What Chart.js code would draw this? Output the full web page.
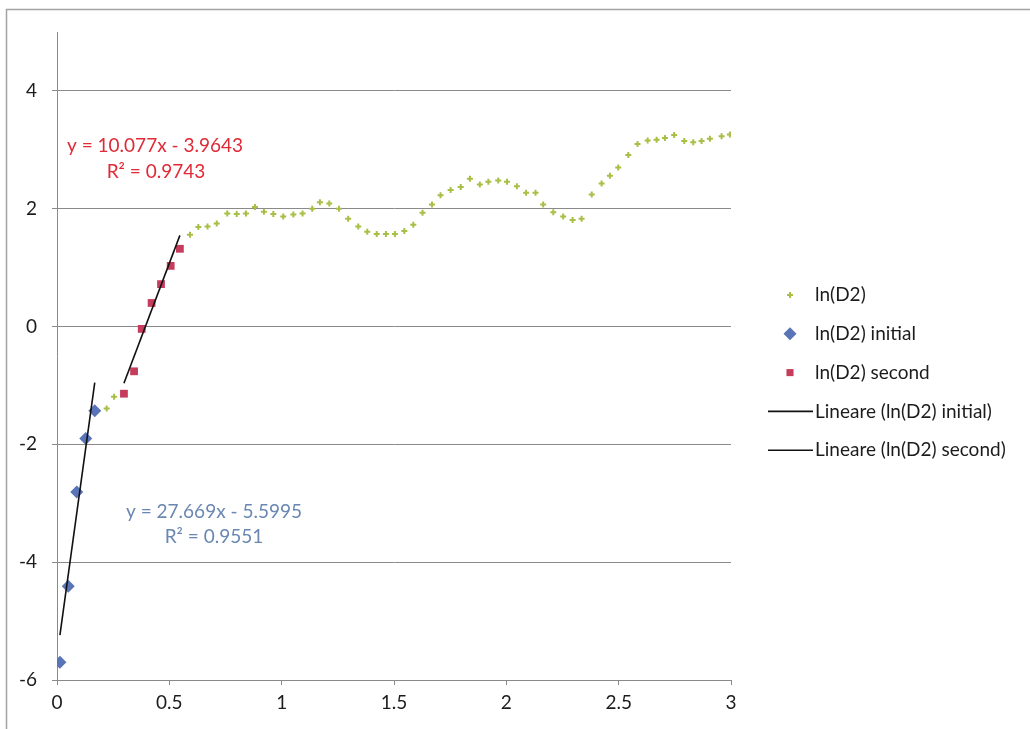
<!DOCTYPE html>
<html>
<head>
<meta charset="utf-8">
<script src="https://cdn.jsdelivr.net/npm/chart.js@4/dist/chart.umd.min.js"></script>
<style>
  html, body { margin: 0; padding: 0; background: #fff; }
  #wrap { position: relative; width: 1030px; height: 729px; }
  canvas { display: block; }
</style>
</head>
<body>
<div id="wrap"><canvas id="c" width="1030" height="729"></canvas></div>
<script>
// ln(D2) over time (plus markers)
const lnD2X = [0.221, 0.254, 0.592, 0.629, 0.670, 0.711, 0.758, 0.800, 0.841, 0.881, 0.921, 0.963,
  1.007, 1.052, 1.093, 1.136, 1.170, 1.212, 1.255, 1.296, 1.341, 1.381, 1.423, 1.464, 1.504,
  1.546, 1.586, 1.627, 1.669, 1.707, 1.752, 1.797, 1.838, 1.882, 1.920, 1.964, 2.003, 2.047,
  2.088, 2.130, 2.164, 2.209, 2.253, 2.295, 2.335, 2.380, 2.424, 2.461, 2.498, 2.543, 2.584,
  2.629, 2.669, 2.706, 2.747, 2.792, 2.832, 2.869, 2.906, 2.958, 2.995];
const lnD2Y = [-1.39, -1.19, 1.56, 1.69, 1.70, 1.75, 1.92, 1.91, 1.92, 2.03, 1.95, 1.91,
  1.87, 1.90, 1.92, 2.00, 2.11, 2.09, 2.00, 1.83, 1.70, 1.61, 1.57, 1.57, 1.57,
  1.62, 1.73, 1.93, 2.07, 2.23, 2.32, 2.37, 2.51, 2.41, 2.46, 2.48, 2.46, 2.38,
  2.27, 2.27, 2.07, 1.94, 1.87, 1.81, 1.83, 2.24, 2.43, 2.56, 2.70, 2.91, 3.10,
  3.16, 3.17, 3.20, 3.25, 3.15, 3.13, 3.15, 3.19, 3.23, 3.26];

// initial growth phase
const initialX = [0.013, 0.050, 0.088, 0.128, 0.168];
const initialY = [-5.70, -4.41, -2.81, -1.90, -1.43];

// second growth phase
const secondX = [0.298, 0.343, 0.377, 0.421, 0.463, 0.506, 0.547];
const secondY = [-1.14, -0.76, -0.04, 0.40, 0.72, 1.03, 1.32];

// linear fits (slope, intercept, R²)
const initialFit = [27.669, -5.5995, 0.9551];
const secondFit = [10.077, -3.9643, 0.9743];

const xTicks = [0, 0.5, 1, 1.5, 2, 2.5, 3];
const yTicks = [-6, -4, -2, 0, 2, 4];

const seriesNames = ['ln(D2)', 'ln(D2) initial', 'ln(D2) second',
  'Lineare (ln(D2) initial)', 'Lineare (ln(D2) second)'];

const FONT = 'Lato, "Open Sans", sans-serif';
const FSIZE = 19;
const GRID = '#8a8a8a';
const INK = '#1c1c1c';

function pts(xs, ys) { return xs.map((x, i) => ({ x: x, y: ys[i] })); }
function fitLine(xs, fit) {
  const lo = Math.min(...xs), hi = Math.max(...xs);
  return [{ x: lo, y: fit[0] * lo + fit[1] }, { x: hi, y: fit[0] * hi + fit[1] }];
}
function fmtEq(fit) {
  const b = fit[1];
  return 'y = ' + fit[0] + 'x ' + (b < 0 ? '- ' : '+ ') + Math.abs(b);
}

// white page with the chart frame
const frame = {
  id: 'frame',
  beforeDraw(chart) {
    const ctx = chart.ctx;
    ctx.save();
    ctx.fillStyle = '#fff';
    ctx.fillRect(0, 0, chart.width, chart.height);
    ctx.strokeStyle = '#a3a3a3';
    ctx.lineWidth = 1.5;
    ctx.beginPath();
    ctx.moveTo(6.5, chart.height);
    ctx.lineTo(6.5, 9.5);
    ctx.lineTo(chart.width, 9.5);
    ctx.stroke();
    ctx.restore();
  }
};

// legend at the right: markers for points, short strokes for fit lines
const sideLegend = {
  id: 'sideLegend',
  afterDraw(chart, args, opts) {
    const ctx = chart.ctx;
    chart.data.datasets.forEach((ds, i) => {
      const y = opts.top + i * opts.rowGap;
      ctx.save();
      if (ds.showLine) {
        ctx.strokeStyle = ds.borderColor;
        ctx.lineWidth = ds.borderWidth;
        ctx.beginPath();
        ctx.moveTo(opts.lineX0, y);
        ctx.lineTo(opts.lineX1, y);
        ctx.stroke();
      } else {
        ctx.fillStyle = ds.backgroundColor;
        ctx.strokeStyle = ds.borderColor;
        ctx.lineWidth = ds.borderWidth;
        Chart.helpers.drawPoint(ctx, {
          pointStyle: ds.pointStyle,
          radius: ds.legendRadius,
          borderWidth: ds.borderWidth,
          rotation: 0
        }, opts.markerX, y);
      }
      ctx.font = opts.font;
      ctx.textBaseline = 'middle';
      ctx.textAlign = 'left';
      ctx.fillStyle = opts.color;
      ctx.fillText(ds.label, opts.textX, y);
      ctx.restore();
    });
  }
};

// fit equations with R² under each
const fitLabels = {
  id: 'fitLabels',
  afterDatasetsDraw(chart, args, opts) {
    const ctx = chart.ctx;
    ctx.save();
    ctx.font = opts.font;
    ctx.textAlign = 'center';
    ctx.textBaseline = 'middle';
    opts.items.forEach(it => {
      ctx.fillStyle = it.color;
      ctx.fillText(fmtEq(it.fit), it.cx, it.cy);
      ctx.fillText('R\u00B2 = ' + it.fit[2], it.cx + it.dx2, it.cy + it.gap);
    });
    ctx.restore();
  }
};

new Chart(document.getElementById('c'), {
  type: 'scatter',
  data: {
    datasets: [
      {
        label: seriesNames[0], data: pts(lnD2X, lnD2Y), order: 5,
        pointStyle: 'cross', pointRadius: 3, legendRadius: 3, borderWidth: 2,
        borderColor: '#a8bf45', backgroundColor: '#a8bf45'
      },
      {
        label: seriesNames[1], data: pts(initialX, initialY), order: 4,
        pointStyle: 'rectRot', pointRadius: 6.5, legendRadius: 6.5, borderWidth: 0,
        borderColor: '#5a74b8', backgroundColor: '#5a74b8'
      },
      {
        label: seriesNames[2], data: pts(secondX, secondY), order: 3,
        pointStyle: 'rect', pointRadius: 5.5, legendRadius: 5, borderWidth: 0,
        borderColor: '#c63c5c', backgroundColor: '#c63c5c'
      },
      {
        label: seriesNames[3], data: fitLine(initialX, initialFit), order: 1,
        showLine: true, pointRadius: 0, borderWidth: 1.6,
        borderColor: '#111', backgroundColor: '#111'
      },
      {
        label: seriesNames[4], data: fitLine(secondX, secondFit), order: 2,
        showLine: true, pointRadius: 0, borderWidth: 1.6,
        borderColor: '#111', backgroundColor: '#111'
      }
    ]
  },
  options: {
    responsive: false,
    animation: false,
    devicePixelRatio: 1,
    layout: { padding: { top: 32, right: 299, left: 0, bottom: 0 } },
    plugins: {
      legend: { display: false },
      tooltip: { enabled: false },
      sideLegend: {
        font: FSIZE + 'px ' + FONT, color: INK,
        top: 295, rowGap: 38.8, markerX: 790, lineX0: 768, lineX1: 813, textX: 815
      },
      fitLabels: {
        font: FSIZE + 'px ' + FONT,
        items: [
          { fit: secondFit, color: '#e02a36', cx: 155, cy: 146, dx2: 1, gap: 26 },
          { fit: initialFit, color: '#6a87b3', cx: 214, cy: 512, dx2: 0, gap: 25 }
        ]
      }
    },
    scales: {
      x: {
        type: 'linear', min: 0, max: 3,
        afterBuildTicks: s => { s.ticks = xTicks.map(v => ({ value: v })); },
        afterFit: s => { s.height = 49; },
        grid: { drawOnChartArea: false, drawTicks: true, tickLength: 5, color: GRID },
        border: { color: GRID, width: 1 },
        ticks: {
          font: { family: FONT, size: FSIZE }, color: INK, padding: 6,
          callback: v => String(v)
        }
      },
      y: {
        type: 'linear', min: -6, max: 5,
        afterBuildTicks: s => { s.ticks = yTicks.map(v => ({ value: v })); },
        afterFit: s => { s.width = 57; },
        grid: { color: GRID, drawTicks: true, tickLength: 5 },
        border: { color: GRID, width: 1 },
        ticks: {
          font: { family: FONT, size: FSIZE }, color: INK, padding: 15,
          callback: v => String(v)
        }
      }
    }
  },
  plugins: [frame, sideLegend, fitLabels]
});
</script>
</body>
</html>
